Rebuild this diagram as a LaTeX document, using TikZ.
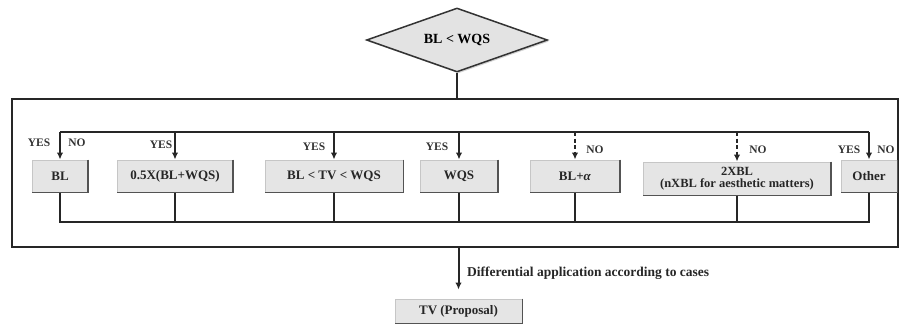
\documentclass[tikz,border=0pt]{standalone}
\usepackage{fontspec}
\setmainfont{Liberation Serif}
\usetikzlibrary{shapes.geometric,arrows.meta,shadows}
\begin{document}
\begin{tikzpicture}[x=1pt,y=-1pt,
  bevel/.style={rectangle, fill=gray!20, draw=gray!45, line width=1pt, inner sep=1pt,
    font=\fontsize{13}{14}\selectfont\bfseries, text=black!85, align=center},
  bus/.style={line width=2pt, black!85},
  arr/.style={line width=2pt, black!85, -{Latex[length=7pt,width=6.5pt]}},
  darr/.style={arr, dash pattern=on 4pt off 2.5pt},
  lab/.style={font=\fontsize{11.5}{12}\selectfont\bfseries, text=black!80, inner sep=0pt}]
\useasboundingbox (0,0) rectangle (899,329);
% decision
\node[diamond, aspect=2.83, minimum width=181pt, minimum height=64pt, inner sep=0pt,
  fill=gray!22, draw=black!80, line width=1.5pt,
  drop shadow={shadow xshift=1.5pt, shadow yshift=-1.5pt, opacity=0.35},
  font=\fontsize{14}{15}\selectfont\bfseries] (dia) at (457,40) {BL < WQS};
% frame
\node[rectangle, draw=black!85, line width=2.5pt, minimum width=886pt, minimum height=148pt, inner sep=0pt] (frame) at (455,173) {};
% boxes
\node[bevel, minimum width=55pt, minimum height=32pt] (bl) at (60,176) {BL};
\node[bevel, minimum width=115pt, minimum height=32pt] (half) at (175,176) {0.5X(BL+WQS)};
\node[bevel, minimum width=138pt, minimum height=32pt] (tv) at (334,176) {BL < TV < WQS};
\node[bevel, minimum width=77pt, minimum height=32pt] (wqs) at (459,176) {WQS};
\node[bevel, minimum width=89pt, minimum height=32pt] (bla) at (575,176) {BL+\textit{α}};
\node[bevel, minimum width=187pt, minimum height=33pt, font=\fontsize{12.5}{12.5}\selectfont\bfseries] (twox) at (737,178.5) {2XBL\\(nXBL for aesthetic matters)};
\node[bevel, minimum width=56pt, minimum height=32pt] (other) at (869,176) {Other};
\node[bevel, minimum width=127pt, minimum height=24pt] (prop) at (458.5,311) {TV (Proposal)};
% bevel dark edges
\foreach \n in {bl,half,tv,wqs,bla,twox,other,prop}{
  \draw[gray!65!black, line width=1.3pt] (\n.north east) -- (\n.south east) -- (\n.south west);
}
% bus coordinates
\coordinate (tb) at (457,132);
\coordinate (bb) at (457,222);
% link diamond to frame
\draw[bus, line width=1.6pt] (dia.south) -- (dia.south |- frame.north);
% top bus
\draw[bus] (bl.north |- tb) -- (other.north |- tb);
\draw[arr] (bl.north |- tb) -- (bl.north);
\draw[arr] (half.north |- tb) -- (half.north);
\draw[arr] (tv.north |- tb) -- (tv.north);
\draw[arr] (wqs.north |- tb) -- (wqs.north);
\draw[darr] (bla.north |- tb) -- (bla.north);
\draw[darr] (twox.north |- tb) -- (twox.north);
\draw[arr] (other.north |- tb) -- (other.north);
% bottom bus
\draw[bus] (bl.south) -- (bl.south |- bb) -- (other.south |- bb) -- (other.south);
\foreach \n in {half,tv,wqs,bla,twox}{
  \draw[bus] (\n.south) -- (\n.south |- bb);
}
% output
\draw[arr, shorten >=9pt] (prop.north |- frame.south) -- (prop.north);
\node[font=\fontsize{13.5}{14}\selectfont\bfseries, text=black!85, anchor=west, inner sep=0pt] (diff) at (467,273) {Differential application according to cases};
% labels
\node[lab] (y1) at (39,143) {YES};
\node[lab] (n1) at (77,143) {NO};
\node[lab] (y2) at (161,145) {YES};
\node[lab] (y3) at (314,147) {YES};
\node[lab] (y4) at (437,147) {YES};
\node[lab] (n5) at (595,150) {NO};
\node[lab] (n6) at (758,150) {NO};
\node[lab] (y7) at (849,150) {YES};
\node[lab] (n7) at (886,150) {NO};
\end{tikzpicture}
\end{document}
